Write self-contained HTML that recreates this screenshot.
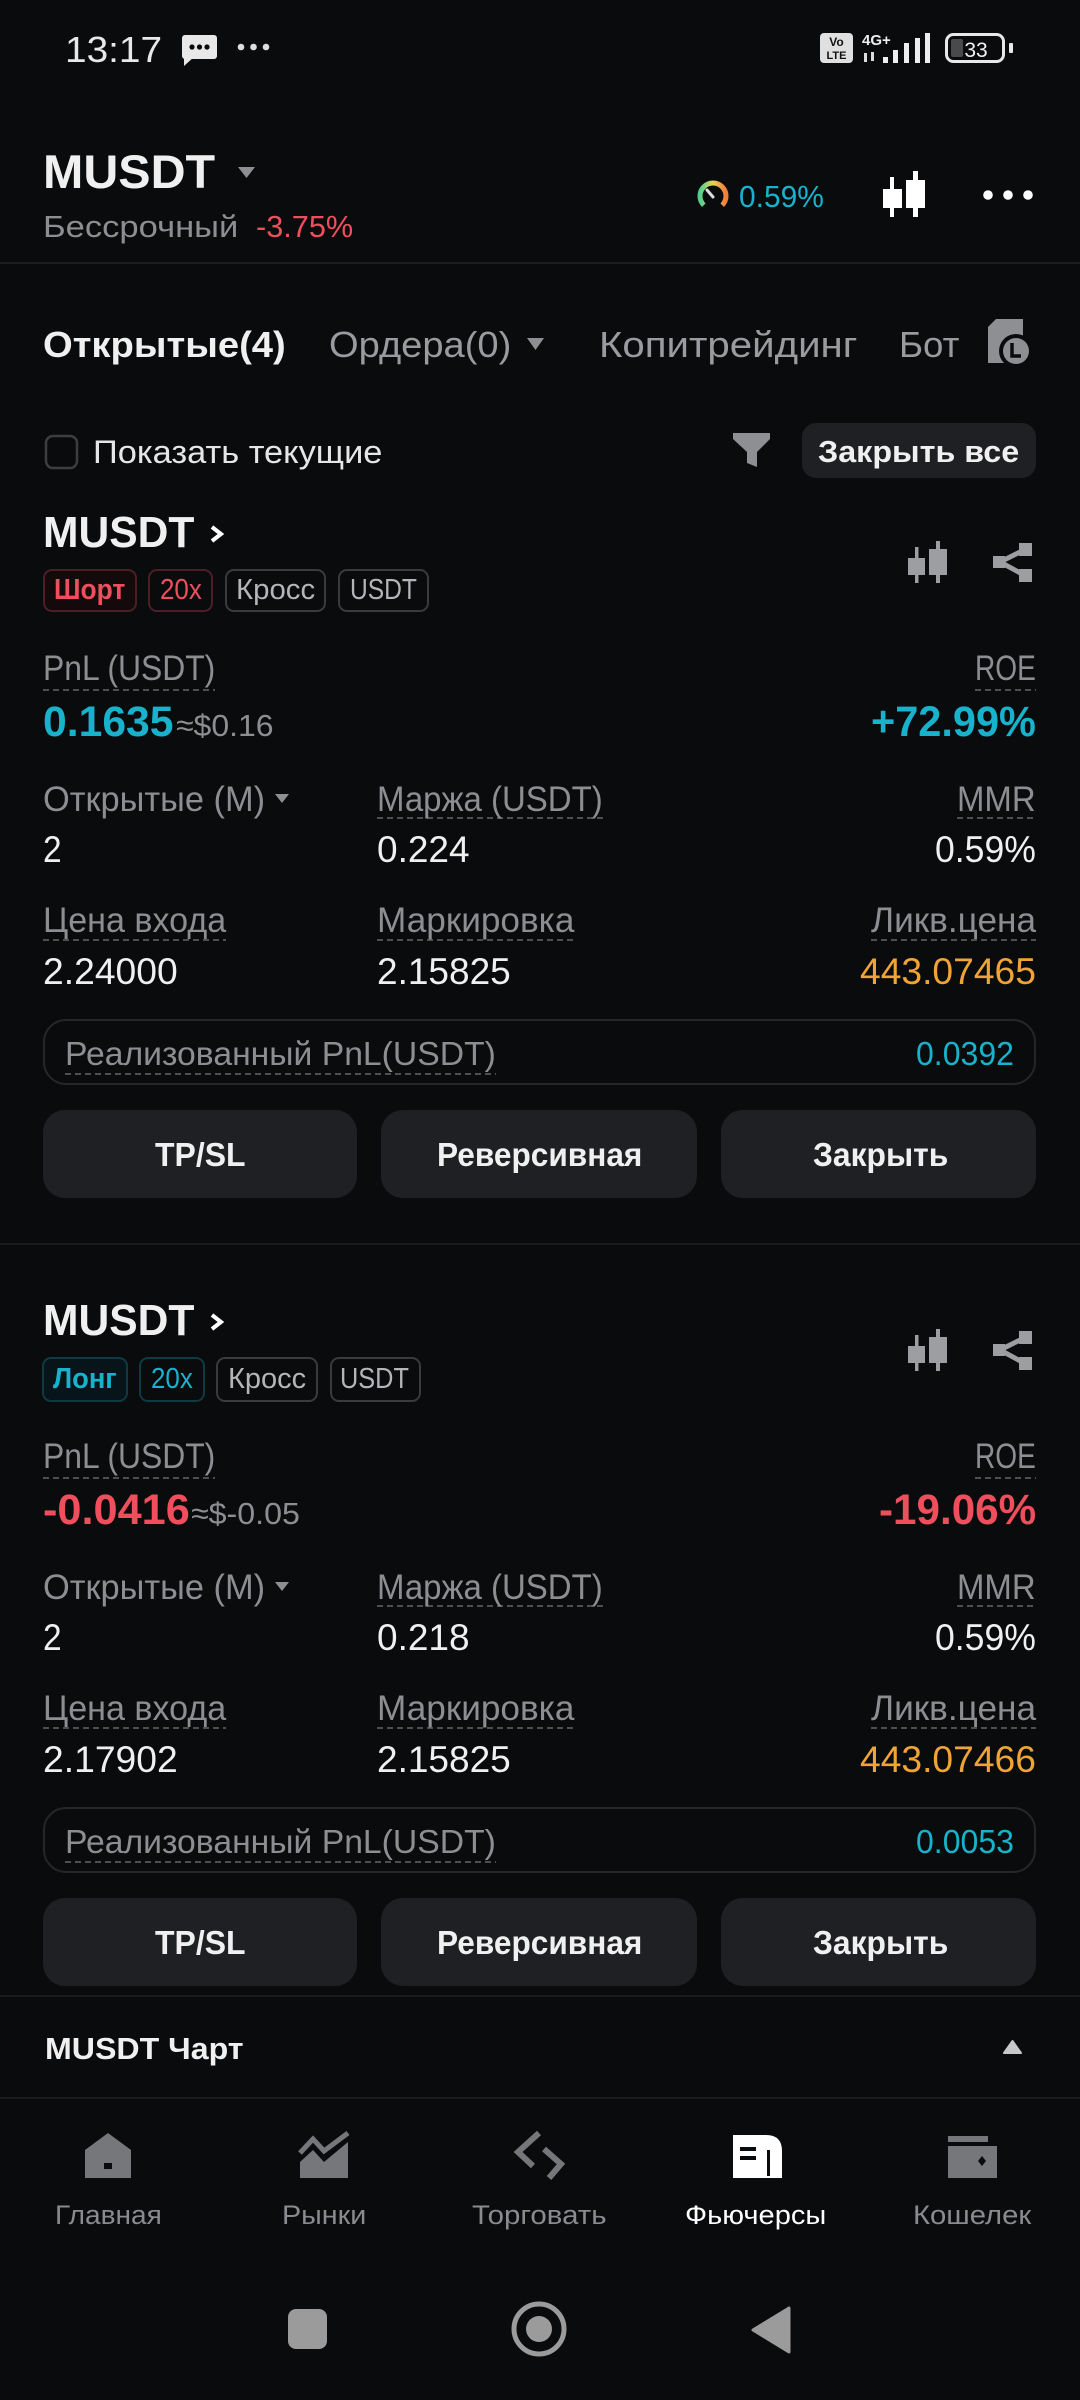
<!DOCTYPE html>
<html><head><meta charset="utf-8">
<style>
html,body{margin:0;padding:0;background:#0a0b0c;}
body{width:1080px;height:2400px;position:relative;overflow:hidden;font-family:"Liberation Sans","DejaVu Sans",sans-serif;}
svg.bg{position:absolute;left:0;top:0;}
.t{position:absolute;white-space:nowrap;line-height:1;transform-origin:left center;color:#f0f0f0;}
.r{transform-origin:right center;}
.g{color:#8d8e92;}
.b{font-weight:bold;}
.tl{color:#19b2cc;}
.rd{color:#ef4e5c;}
.or{color:#f0a437;}
</style></head><body>
<svg class="bg" width="1080" height="2400" viewBox="0 0 1080 2400" xmlns="http://www.w3.org/2000/svg">
<defs>
<linearGradient id="gg" x1="0" x2="1" y1="0" y2="0">
<stop offset="0" stop-color="#4fd08f"/><stop offset="0.5" stop-color="#e6d258"/><stop offset="1" stop-color="#f07d3a"/>
</linearGradient>
</defs>
<!-- status bar -->
<rect x="182" y="35" width="35" height="24" rx="3" fill="#e8e8e8"/>
<polygon points="184,57 184,66 194,57" fill="#e8e8e8"/>
<circle cx="192" cy="47" r="2.6" fill="#0a0b0c"/><circle cx="199.5" cy="47" r="2.6" fill="#0a0b0c"/><circle cx="207" cy="47" r="2.6" fill="#0a0b0c"/>
<circle cx="241" cy="47" r="3.3" fill="#ddd"/><circle cx="253.5" cy="47" r="3.3" fill="#ddd"/><circle cx="266" cy="47" r="3.3" fill="#ddd"/>
<rect x="820" y="33" width="33" height="30" rx="4" fill="#e0e0e0"/>
<text x="836.5" y="46" font-size="12" font-weight="bold" text-anchor="middle" fill="#111" font-family="Liberation Sans">Vo</text>
<text x="836.5" y="59" font-size="11" font-weight="bold" text-anchor="middle" fill="#111" font-family="Liberation Sans">LTE</text>
<text x="862" y="45" font-size="15" font-weight="bold" fill="#eee" font-family="Liberation Sans">4G+</text>
<rect x="864" y="53" width="3" height="9" fill="#ddd"/><rect x="871" y="52" width="3" height="9" fill="#ddd"/>
<rect x="883" y="57" width="5" height="6" fill="#eee"/>
<rect x="893" y="50" width="5" height="13" fill="#eee"/>
<rect x="904" y="43" width="5" height="20" fill="#eee"/>
<rect x="915" y="38" width="5" height="25" fill="#eee"/>
<rect x="925" y="33" width="5" height="30" fill="#eee"/>
<rect x="946.5" y="34.5" width="57" height="27" rx="7" fill="none" stroke="#e8e8e8" stroke-width="3"/>
<rect x="951" y="39" width="12" height="18" rx="2" fill="#4a4a4a"/>
<text x="976" y="57" font-size="21" fill="#f2f2f2" text-anchor="middle" font-family="Liberation Sans">33</text>
<rect x="1009" y="43" width="4" height="10" rx="1" fill="#e8e8e8"/>
<!-- header -->
<polygon points="238,167 255,167 246.5,178" fill="#8e8f93"/>
<path d="M703.8,205.2 A13,13 0 1 1 722.2,205.2" fill="none" stroke="url(#gg)" stroke-width="5"/>
<line x1="713" y1="197" x2="707" y2="190" stroke="#ddd" stroke-width="3" stroke-linecap="round"/>
<rect x="890" y="177" width="4" height="40" fill="#fff"/><rect x="883" y="189" width="19" height="19" fill="#fff"/>
<rect x="913" y="171" width="5" height="46" fill="#fff"/><rect x="906" y="180" width="19" height="28" fill="#fff"/>
<circle cx="988" cy="195" r="4.8" fill="#fff"/><circle cx="1008" cy="195" r="4.8" fill="#fff"/><circle cx="1028" cy="195" r="4.8" fill="#fff"/>
<rect x="0" y="262" width="1080" height="2" fill="#1d1e21"/>
<!-- tabs -->
<polygon points="527,338 544,338 535.5,350" fill="#8e8f93"/>
<path d="M996,319 H1023 V363 H988 V327 Z" fill="#8e8f93"/>
<circle cx="1016" cy="351" r="17" fill="#0a0b0c"/>
<circle cx="1016" cy="351" r="13" fill="#8e8f93"/>
<path d="M1012,343 V356 H1021" fill="none" stroke="#0a0b0c" stroke-width="3.5"/>
<!-- checkbox row -->
<rect x="46" y="436" width="31" height="32" rx="7" fill="none" stroke="#3d3e42" stroke-width="2.5"/>
<polygon points="733,433 770,433 770,439 757,452 757,467 747,463 747,452 733,439" fill="#8e8f93"/>
<rect x="802" y="423" width="234" height="55" rx="14" fill="#1f2024"/>

<!-- card 1 -->
<g>
<polyline points="212,527 221,534 212,541" fill="none" stroke="#fff" stroke-width="4"/>
<rect x="44" y="570" width="92" height="41" rx="8" fill="#140a0c" stroke="#4d1e25" stroke-width="2"/>
<rect x="149" y="570" width="63" height="41" rx="8" fill="none" stroke="#4d1e25" stroke-width="2"/>
<rect x="226" y="570" width="99" height="41" rx="8" fill="none" stroke="#3a3b3f" stroke-width="2"/>
<rect x="339" y="570" width="89" height="41" rx="8" fill="none" stroke="#3a3b3f" stroke-width="2"/>
<rect x="915" y="547" width="3.5" height="36" fill="#9d9ea2"/><rect x="908" y="558" width="17" height="17" fill="#9d9ea2"/>
<rect x="936" y="541" width="4" height="42" fill="#9d9ea2"/><rect x="929" y="549" width="18" height="26" fill="#9d9ea2"/>
<rect x="993" y="556" width="12" height="12" fill="#9d9ea2"/><rect x="1019" y="543" width="13" height="13" fill="#9d9ea2"/><rect x="1019" y="569" width="13" height="13" fill="#9d9ea2"/>
<polyline points="1024,550 1000,562 1024,575" fill="none" stroke="#9d9ea2" stroke-width="5"/>
<g stroke="#4e4f53" stroke-width="2" stroke-dasharray="6 4">
<line x1="43" y1="690" x2="215" y2="690"/><line x1="975" y1="690" x2="1036" y2="690"/>
<line x1="377" y1="818" x2="603" y2="818"/><line x1="957" y1="818" x2="1036" y2="818"/>
<line x1="43" y1="940" x2="226" y2="940"/><line x1="377" y1="940" x2="574" y2="940"/><line x1="871" y1="940" x2="1036" y2="940"/>
<line x1="65" y1="1074" x2="496" y2="1074"/>
</g>
<polygon points="275,794 289,794 282,803" fill="#8e8f93"/>
<rect x="44" y="1020" width="991" height="64" rx="22" fill="none" stroke="#25262a" stroke-width="2"/>
<rect x="43" y="1110" width="314" height="88" rx="22" fill="#1f2024"/>
<rect x="381" y="1110" width="316" height="88" rx="22" fill="#1f2024"/>
<rect x="721" y="1110" width="315" height="88" rx="22" fill="#1f2024"/>
</g>
<rect x="0" y="1243" width="1080" height="2" fill="#1a1b1e"/>

<!-- card 2 -->
<g transform="translate(0,788)">
<polyline points="212,527 221,534 212,541" fill="none" stroke="#fff" stroke-width="4"/>
<rect x="43" y="570" width="84" height="43" rx="8" fill="#07151a" stroke="#0f3a44" stroke-width="2"/>
<rect x="140" y="570" width="64" height="43" rx="8" fill="none" stroke="#0f3a44" stroke-width="2"/>
<rect x="217" y="570" width="100" height="43" rx="8" fill="none" stroke="#3a3b3f" stroke-width="2"/>
<rect x="331" y="570" width="89" height="43" rx="8" fill="none" stroke="#3a3b3f" stroke-width="2"/>
<rect x="915" y="547" width="3.5" height="36" fill="#9d9ea2"/><rect x="908" y="558" width="17" height="17" fill="#9d9ea2"/>
<rect x="936" y="541" width="4" height="42" fill="#9d9ea2"/><rect x="929" y="549" width="18" height="26" fill="#9d9ea2"/>
<rect x="993" y="556" width="12" height="12" fill="#9d9ea2"/><rect x="1019" y="543" width="13" height="13" fill="#9d9ea2"/><rect x="1019" y="569" width="13" height="13" fill="#9d9ea2"/>
<polyline points="1024,550 1000,562 1024,575" fill="none" stroke="#9d9ea2" stroke-width="5"/>
<g stroke="#4e4f53" stroke-width="2" stroke-dasharray="6 4">
<line x1="43" y1="690" x2="215" y2="690"/><line x1="975" y1="690" x2="1036" y2="690"/>
<line x1="377" y1="818" x2="603" y2="818"/><line x1="957" y1="818" x2="1036" y2="818"/>
<line x1="43" y1="940" x2="226" y2="940"/><line x1="377" y1="940" x2="574" y2="940"/><line x1="871" y1="940" x2="1036" y2="940"/>
<line x1="65" y1="1074" x2="496" y2="1074"/>
</g>
<polygon points="275,794 289,794 282,803" fill="#8e8f93"/>
<rect x="44" y="1020" width="991" height="64" rx="22" fill="none" stroke="#25262a" stroke-width="2"/>
<rect x="43" y="1110" width="314" height="88" rx="22" fill="#1f2024"/>
<rect x="381" y="1110" width="316" height="88" rx="22" fill="#1f2024"/>
<rect x="721" y="1110" width="315" height="88" rx="22" fill="#1f2024"/>
</g>

<!-- bottom -->
<rect x="0" y="1995" width="1080" height="2" fill="#1a1b1e"/>
<polygon points="1004,2053 1021,2053 1012.5,2041" fill="#c8c8c8" stroke="#c8c8c8" stroke-width="2" stroke-linejoin="round"/>
<rect x="0" y="2097" width="1080" height="2" fill="#1a1b1e"/>
<!-- nav icons -->
<polygon points="85,2150 108,2133 131,2150 131,2178 85,2178" fill="#76777b"/>
<rect x="104" y="2163" width="8" height="6" fill="#0a0b0c"/>
<polygon points="300,2178 300,2162 313,2150 324,2162 348,2142 348,2178" fill="#76777b"/>
<polyline points="300,2153 313,2139 324,2151 348,2133" fill="none" stroke="#76777b" stroke-width="5"/>
<polyline points="539,2133 518,2152 533,2166" fill="none" stroke="#76777b" stroke-width="6"/>
<polyline points="544,2149 561,2164 549,2178" fill="none" stroke="#76777b" stroke-width="6"/>
<path d="M733,2135 H766 Q782,2135 782,2151 V2178 H733 Z" fill="#ffffff"/>
<rect x="740" y="2147" width="16" height="4" fill="#0a0b0c"/>
<rect x="740" y="2156" width="16" height="4" fill="#0a0b0c"/>
<rect x="767" y="2150" width="3" height="26" fill="#0a0b0c"/>
<rect x="948" y="2136" width="40" height="6" fill="#76777b"/>
<rect x="948" y="2146" width="49" height="32" fill="#76777b"/>
<polygon points="982,2156 986,2161 982,2166 978,2161" fill="#0a0b0c"/>
<!-- system nav -->
<rect x="288" y="2309" width="39" height="40" rx="8" fill="#9b9b9b"/>
<circle cx="539" cy="2329" r="25" fill="none" stroke="#9b9b9b" stroke-width="5"/>
<circle cx="539" cy="2329" r="13" fill="#9b9b9b"/>
<polygon points="789,2308 789,2352 753,2330" fill="#9b9b9b" stroke="#9b9b9b" stroke-width="3" stroke-linejoin="round"/>
</svg>

<!-- status bar text -->
<div class="t" style="left:65px;top:32px;font-size:36px;color:#e8e8e8;--w:97">13:17</div>
<!-- header -->
<div class="t b" style="left:43px;top:148px;font-size:47px;--w:172">MUSDT</div>
<div class="t g" style="left:43px;top:211px;font-size:31px;--w:195">Бессрочный</div>
<div class="t rd" style="left:256px;top:211px;font-size:31px;--w:97">-3.75%</div>
<div class="t tl" style="left:739px;top:181px;font-size:31px;--w:85">0.59%</div>
<!-- tabs -->
<div class="t b" style="left:43px;top:327px;font-size:36px;--w:243">Открытые(4)</div>
<div class="t g" style="left:329px;top:327px;font-size:36px;color:#9a9b9f;--w:182">Ордера(0)</div>
<div class="t g" style="left:599px;top:327px;font-size:36px;color:#9a9b9f;--w:258">Копитрейдинг</div>
<div class="t g" style="left:899px;top:327px;font-size:36px;color:#9a9b9f;--w:60">Бот</div>
<div class="t" style="left:93px;top:436px;font-size:32px;color:#e6e6e6;--w:289">Показать текущие</div>
<div class="t b" style="left:818px;top:436px;font-size:31px;--w:201">Закрыть все</div>

<!-- card 1 text -->
<div class="t b" style="left:43px;top:511px;font-size:44px;--w:151">MUSDT</div>
<div class="t b rd" style="left:54px;top:576px;font-size:29px;--w:71">Шорт</div>
<div class="t rd" style="left:160px;top:576px;font-size:29px;--w:42">20x</div>
<div class="t" style="left:236px;top:576px;font-size:29px;color:#b4b5b9;--w:79">Кросс</div>
<div class="t" style="left:350px;top:576px;font-size:29px;color:#b4b5b9;--w:67">USDT</div>
<div class="t g" style="left:43px;top:651px;font-size:35px;--w:172">PnL (USDT)</div>
<div class="t g r" style="right:44px;top:651px;font-size:35px;--w:61">ROE</div>
<div class="t b tl" style="left:43px;top:701px;font-size:43px;--w:131">0.1635</div>
<div class="t g" style="left:176px;top:710px;font-size:31px;--w:98">≈$0.16</div>
<div class="t b tl r" style="right:44px;top:701px;font-size:43px;--w:165">+72.99%</div>
<div class="t g" style="left:43px;top:782px;font-size:35px;--w:222">Открытые (M)</div>
<div class="t g" style="left:377px;top:782px;font-size:35px;--w:226">Маржа (USDT)</div>
<div class="t g r" style="right:44px;top:782px;font-size:35px;--w:79">MMR</div>
<div class="t" style="left:43px;top:831px;font-size:37px;--w:19">2</div>
<div class="t" style="left:377px;top:831px;font-size:37px;--w:93">0.224</div>
<div class="t r" style="right:44px;top:831px;font-size:37px;--w:101">0.59%</div>
<div class="t g" style="left:43px;top:903px;font-size:35px;--w:183">Цена входа</div>
<div class="t g" style="left:377px;top:903px;font-size:35px;--w:197">Маркировка</div>
<div class="t g r" style="right:44px;top:903px;font-size:35px;--w:165">Ликв.цена</div>
<div class="t" style="left:43px;top:953px;font-size:37px;--w:135">2.24000</div>
<div class="t" style="left:377px;top:953px;font-size:37px;--w:134">2.15825</div>
<div class="t or r" style="right:44px;top:953px;font-size:37px;--w:176">443.07465</div>
<div class="t g" style="left:65px;top:1037px;font-size:33px;--w:431">Реализованный PnL(USDT)</div>
<div class="t tl r" style="right:66px;top:1037px;font-size:33px;--w:98">0.0392</div>
<div class="t b" style="left:155px;top:1138px;font-size:33px;--w:91">TP/SL</div>
<div class="t b" style="left:437px;top:1138px;font-size:33px;--w:205">Реверсивная</div>
<div class="t b" style="left:813px;top:1138px;font-size:33px;--w:135">Закрыть</div>

<!-- card 2 text -->
<div class="t b" style="left:43px;top:1299px;font-size:44px;--w:151">MUSDT</div>
<div class="t b tl" style="left:53px;top:1365px;font-size:29px;--w:64">Лонг</div>
<div class="t tl" style="left:151px;top:1365px;font-size:29px;--w:42">20x</div>
<div class="t" style="left:228px;top:1365px;font-size:29px;color:#b4b5b9;--w:78">Кросс</div>
<div class="t" style="left:340px;top:1365px;font-size:29px;color:#b4b5b9;--w:69">USDT</div>
<div class="t g" style="left:43px;top:1439px;font-size:35px;--w:172">PnL (USDT)</div>
<div class="t g r" style="right:44px;top:1439px;font-size:35px;--w:61">ROE</div>
<div class="t b rd" style="left:43px;top:1489px;font-size:43px;--w:147">-0.0416</div>
<div class="t g" style="left:191px;top:1498px;font-size:31px;--w:109">≈$-0.05</div>
<div class="t b rd r" style="right:44px;top:1489px;font-size:43px;--w:157">-19.06%</div>
<div class="t g" style="left:43px;top:1570px;font-size:35px;--w:222">Открытые (M)</div>
<div class="t g" style="left:377px;top:1570px;font-size:35px;--w:226">Маржа (USDT)</div>
<div class="t g r" style="right:44px;top:1570px;font-size:35px;--w:79">MMR</div>
<div class="t" style="left:43px;top:1619px;font-size:37px;--w:19">2</div>
<div class="t" style="left:377px;top:1619px;font-size:37px;--w:93">0.218</div>
<div class="t r" style="right:44px;top:1619px;font-size:37px;--w:101">0.59%</div>
<div class="t g" style="left:43px;top:1691px;font-size:35px;--w:183">Цена входа</div>
<div class="t g" style="left:377px;top:1691px;font-size:35px;--w:197">Маркировка</div>
<div class="t g r" style="right:44px;top:1691px;font-size:35px;--w:165">Ликв.цена</div>
<div class="t" style="left:43px;top:1741px;font-size:37px;--w:135">2.17902</div>
<div class="t" style="left:377px;top:1741px;font-size:37px;--w:134">2.15825</div>
<div class="t or r" style="right:44px;top:1741px;font-size:37px;--w:176">443.07466</div>
<div class="t g" style="left:65px;top:1825px;font-size:33px;--w:431">Реализованный PnL(USDT)</div>
<div class="t tl r" style="right:66px;top:1825px;font-size:33px;--w:98">0.0053</div>
<div class="t b" style="left:155px;top:1926px;font-size:33px;--w:91">TP/SL</div>
<div class="t b" style="left:437px;top:1926px;font-size:33px;--w:205">Реверсивная</div>
<div class="t b" style="left:813px;top:1926px;font-size:33px;--w:135">Закрыть</div>

<!-- bottom -->
<div class="t b" style="left:45px;top:2033px;font-size:31px;--w:199">MUSDT Чарт</div>
<div class="t" style="left:55px;top:2202px;font-size:27px;color:#8a8b8f;--w:107">Главная</div>
<div class="t" style="left:282px;top:2202px;font-size:27px;color:#8a8b8f;--w:84">Рынки</div>
<div class="t" style="left:472px;top:2202px;font-size:27px;color:#8a8b8f;--w:135">Торговать</div>
<div class="t" style="left:685px;top:2202px;font-size:27px;color:#ffffff;--w:141">Фьючерсы</div>
<div class="t" style="left:913px;top:2202px;font-size:27px;color:#8a8b8f;--w:118">Кошелек</div>

<script>
(function(){
var els=document.querySelectorAll('.t');
for(var i=0;i<els.length;i++){
var e=els[i];
var w=parseFloat(getComputedStyle(e).getPropertyValue('--w'));
var n=e.offsetWidth;
if(w&&n){e.style.transform='scaleX('+(w/n)+')';}
}
})();
</script>
</body></html>
